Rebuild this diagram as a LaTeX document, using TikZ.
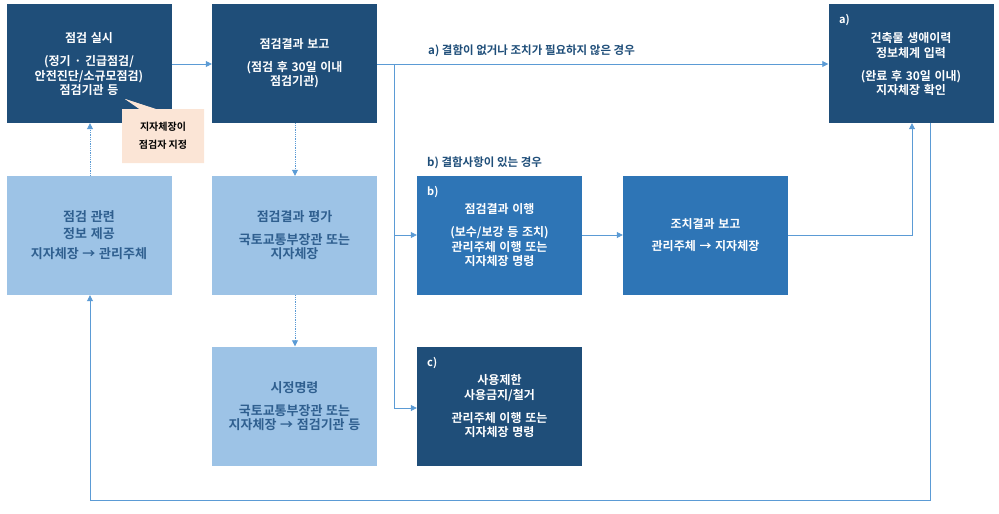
\documentclass[tikz,border=0pt]{standalone}
\usepackage{fontspec}
\setmainfont{Noto Sans CJK KR}[BoldFont={* Bold}]
\usetikzlibrary{arrows.meta,positioning}
\definecolor{dk}{HTML}{1F4E79}
\definecolor{md}{HTML}{2E75B6}
\definecolor{lt}{HTML}{9DC3E6}
\definecolor{ln}{HTML}{5B9BD5}
\definecolor{tt}{HTML}{2F5F8F}
\definecolor{pk}{HTML}{FBE5D6}
\tikzset{
 bx/.style={minimum width=165pt,minimum height=119pt,inner sep=0pt,align=center,font=\bfseries\fontsize{11}{14}\selectfont,text width=160pt},
 dkbox/.style={bx,fill=dk,text=white},
 mdbox/.style={bx,fill=md,text=white},
 ltbox/.style={bx,fill=lt,text=black},
 con/.style={draw=ln,line width=0.8pt,-{Triangle[length=6pt,width=6pt]}},
 dcon/.style={con,densely dotted},
 lab/.style={text=dk,font=\bfseries\fontsize{11.5}{14}\selectfont,inner sep=0pt}
}
\begin{document}
\begin{tikzpicture}[x=1pt,y=-1pt]
\useasboundingbox (0,0) rectangle (999,514);
\node[dkbox] (A) at (89,63.5) {\fontsize{12}{15}\selectfont 점검 실시\\[8pt](정기 · 긴급점검/\\안전진단/소규모점검)\\점검기관 등};
\node[dkbox] (B) at (294.5,63.5) {\fontsize{12}{15}\selectfont 점검결과 보고\\[8pt](점검 후 30일 이내\\점검기관)};
\node[ltbox] (C) at (89,235.5) {\fontsize{13}{17}\selectfont\color{tt}점검 관련\\정보 제공\\[6pt]지자체장 → 관리주체};
\node[ltbox] (D) at (294.5,235.5) {\fontsize{13}{17}\selectfont\color{tt}점검결과 평가\\[6pt]국토교통부장관 또는\\지자체장};
\node[ltbox] (E) at (294.5,406) {\fontsize{13}{17}\selectfont\color{tt}시정명령\\[6pt]국토교통부장관 또는\\지자체장 → 점검기관 등};
\node[mdbox] (F) at (499.5,235.5) {\fontsize{12}{15}\selectfont 점검결과 이행\\[8pt](보수/보강 등 조치)\\관리주체 이행 또는\\지자체장 명령};
\node[mdbox] (G) at (705.5,235.5) {\fontsize{12}{15}\selectfont 조치결과 보고\\[8pt]관리주체 → 지자체장};
\node[dkbox] (H) at (499.5,406) {\fontsize{12}{15}\selectfont 사용제한\\사용금지/철거\\[8pt]관리주체 이행 또는\\지자체장 명령};
\node[dkbox] (I) at (911,63.5) {\fontsize{12}{15}\selectfont 건축물 생애이력\\정보체계 입력\\[8pt](완료 후 30일 이내)\\지자체장 확인};
\node[anchor=north west,text=white,font=\bfseries\fontsize{11}{13}\selectfont,inner sep=0pt] (Fl) at (427,186) {b)};
\node[anchor=north west,text=white,font=\bfseries\fontsize{11}{13}\selectfont,inner sep=0pt] (Hl) at (427,357) {c)};
\node[anchor=north west,text=white,font=\bfseries\fontsize{11}{13}\selectfont,inner sep=0pt] (Il) at (839,14) {a)};
% callout
\fill[pk] (122,109) -- (156,109) -- (125,99) -- (141,109) -- (204,109) -- (204,163) -- (122,163) -- cycle;
\fill[pk] (122,109) rectangle (204,163);
\fill[pk] (125,99) -- (140,109.5) -- (156,109.5) -- cycle;
\node[align=center,font=\bfseries\fontsize{10}{18}\selectfont,inner sep=0pt] (K) at (163,136) {지자체장이\\점검자 지정};
% connectors
\coordinate (j1) at (394,64);
\coordinate (j2) at (394,408);
\coordinate (g1) at (912,235);
\coordinate (i1) at (930,500);
\coordinate (c1) at (90,500);
\draw[con] (A.east|-0,64) -- (B.west|-0,64);
\draw[con] (B.east|-0,64) -- (I.west|-0,64);
\draw[draw=ln,line width=0.8pt] (j1) -- (j2);
\draw[con] (394,235) -- (F.west|-0,235);
\draw[con] (j2) -- (H.west|-0,408);
\draw[con] (F.east|-0,235) -- (G.west|-0,235);
\draw[con] (G.east|-0,235) -- (g1) -- (g1|-I.south);
\draw[con] (I.south-|i1) -- (i1) -- (c1) -- (c1|-C.south);
\draw[dcon] (C.north-|90,0) -- (A.south-|90,0);
\draw[dcon] (B.south-|295,0) -- (D.north-|295,0);
\draw[dcon] (D.south-|295,0) -- (E.north-|295,0);
\node[lab,anchor=west] (La) at (428,51) {a) 결함이 없거나 조치가 필요하지 않은 경우};
\node[lab,anchor=west] (Lb) at (427,163) {b) 결함사항이 있는 경우};
\end{tikzpicture}
\end{document}
